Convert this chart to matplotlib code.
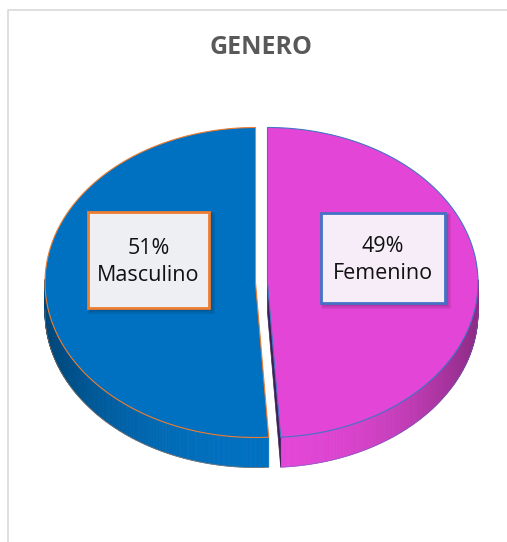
import numpy as np
import matplotlib
matplotlib.use("Agg")
import matplotlib.pyplot as plt
from matplotlib.patches import Polygon, Rectangle

# ---- data ----
categories = ["Masculino", "Femenino"]
values = [51, 49]
title = "GENERO"

# ---- styles ----
top_colors = ["#0070C0", "#E346D6"]
edge_colors = ["#ED7D31", "#4472C4"]
box_fill = ["#EDEFF3", "#F6EDF8"]
box_edge = ["#ED7D31", "#4472C4"]
FONT = "Open Sans"

W, H = 507, 542
fig = plt.figure(figsize=(W / 100, H / 100), dpi=100)

# pie axes: unit circle mapped to the top ellipse
cx, cy, a, b = 261.5, 282.5, 210.5, 155   # pixels (y from top)
ax = fig.add_axes([(cx - a) / W, (H - cy - b) / H, 2 * a / W, 2 * b / H])
ax.set_xlim(-1, 1)
ax.set_ylim(-1, 1)
ax.axis("off")
depth = 30 / b
explode = 6 / a

fracs = np.array(values, dtype=float) / sum(values)
start = 90.0
fem_end = start - fracs[1] * 360
spans = {0: (start, fem_end + 360), 1: (fem_end, start)}

def shade(col, f):
    c = np.array(matplotlib.colors.to_rgb(col))
    return tuple(np.clip(c * f, 0, 1))

for i in [0, 1]:
    t0, t1 = spans[i]
    mid = np.radians((t0 + t1) / 2)
    ox, oy = explode * np.cos(mid), 0.0
    ts = np.linspace(t0, t1, 400)
    for k in range(len(ts) - 1):
        ta, tb = np.radians(ts[k]), np.radians(ts[k + 1])
        if np.sin((ta + tb) / 2) > 0.02:
            continue
        xa, ya = np.cos(ta) + ox, np.sin(ta) + oy
        xb, yb = np.cos(tb) + ox, np.sin(tb) + oy
        c = np.cos((ta + tb) / 2)
        f = 1.0 - 0.38 * abs(c) ** 2.2
        ax.add_patch(Polygon([[xa, ya], [xb, yb], [xb, yb - depth], [xa, ya - depth]],
                             closed=True, facecolor=shade(top_colors[i], f),
                             edgecolor=shade(top_colors[i], f), lw=0.6, zorder=1,
                             clip_on=False))
    tt = np.radians(np.linspace(t0, t1, 300))
    m = np.sin(tt) <= 0.02
    ax.plot(np.cos(tt[m]) + ox, np.sin(tt[m]) + oy - depth, color=edge_colors[i], lw=0.5,
            alpha=0.6, zorder=2, clip_on=False)
    if i == 1:
        te = np.radians(t0)
        ex, ey = np.cos(te) + ox, np.sin(te) + oy
        ax.add_patch(Polygon([[ox, oy], [ex, ey], [ex, ey - depth], [ox, oy - depth]],
                             closed=True, facecolor="#3E1F55", edgecolor="#3E1F55", lw=0.5,
                             zorder=1.5, clip_on=False))

for i in [0, 1]:
    t0, t1 = spans[i]
    mid = np.radians((t0 + t1) / 2)
    ox, oy = explode * np.cos(mid), 0.0
    tt = np.radians(np.linspace(t0, t1, 400))
    xs = np.concatenate([[ox], np.cos(tt) + ox, [ox]])
    ys = np.concatenate([[oy], np.sin(tt) + oy, [oy]])
    ax.add_patch(Polygon(np.column_stack([xs, ys]), closed=True, facecolor=top_colors[i],
                         edgecolor=edge_colors[i], lw=0.8, zorder=3, clip_on=False))

# overlay in pixel coordinates
ov = fig.add_axes([0, 0, 1, 1], zorder=5)
ov.set_xlim(0, W)
ov.set_ylim(H, 0)
ov.axis("off")
ov.patch.set_alpha(0)

ov.plot([8, 8, W + 5], [H + 5, 10, 10], color="#D9D9D9", lw=1.2)

ov.text(261, 48, title, ha="center", va="center", fontsize=18, fontweight="bold",
        color="#595959", family=FONT)

boxes = [(88, 212, 121, 96), (321, 213, 124, 90)]
for i, (x, y, w, h) in enumerate(boxes):
    for s in range(6, 0, -1):
        ov.add_patch(Rectangle((x + 2 - s * 0.3, y + 2 - s * 0.3), w + s, h + s,
                               facecolor="black", edgecolor="none", alpha=0.035))
    ov.add_patch(Rectangle((x, y), w, h, facecolor=box_fill[i], edgecolor=box_edge[i], lw=2))
    ov.text(x + w / 2, y + h / 2 + 2, f"{values[i]}%\n{categories[i]}", ha="center", va="center",
            fontsize=15.5, color="#111111", family=FONT, linespacing=1.4)

fig.savefig("out.png", dpi=100, facecolor="white")
